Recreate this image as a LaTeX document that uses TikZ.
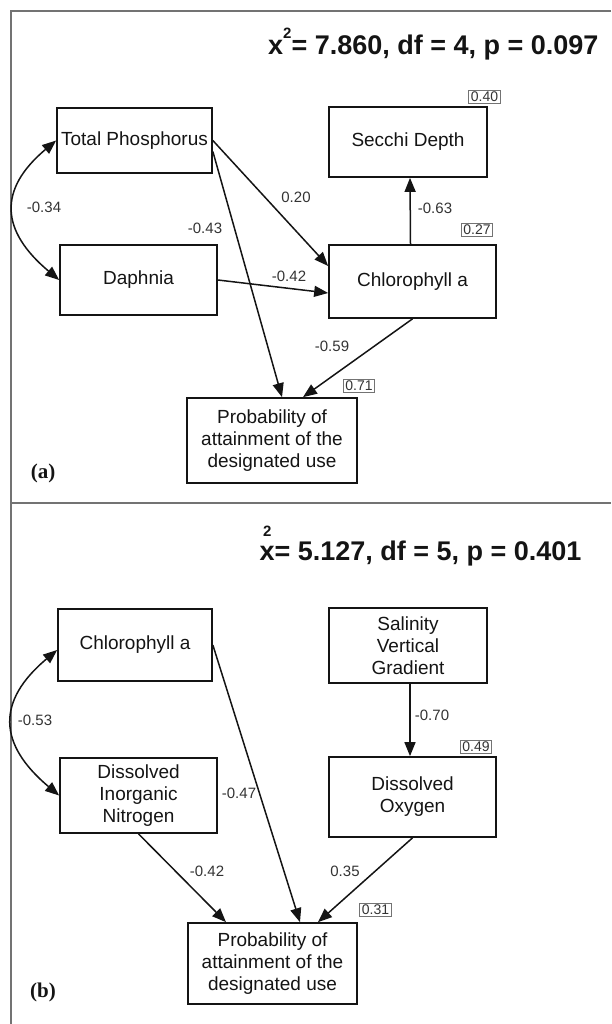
\documentclass[tikz,border=0pt]{standalone}
\usepackage{fontspec}
\setmainfont{Liberation Sans}
\newfontfamily\panelfont{Liberation Serif}
\usetikzlibrary{arrows.meta}

\newcommand{\boxfont}{\fontsize{19}{22}\selectfont}
\newcommand{\coeffont}{\fontsize{15}{17}\selectfont}
\newcommand{\residfont}{\fontsize{14}{15}\selectfont}
\newcommand{\fitfont}{\fontsize{27}{30}\selectfont\bfseries}

\definecolor{framegray}{gray}{0.45}
\definecolor{inkgray}{gray}{0.08}
\definecolor{labelgray}{gray}{0.2}

\begin{document}
\begin{tikzpicture}[x=1pt, y=1pt,
    varbox/.style={draw=inkgray, line width=1.7pt, inner sep=0pt, align=center, font=\boxfont, text=inkgray},
    resid/.style={draw=framegray, line width=0.8pt, inner xsep=2pt, inner ysep=1.5pt, font=\residfont, text=labelgray},
    coef/.style={font=\coeffont, text=labelgray, inner sep=0pt},
    effect/.style={-{Triangle[length=14pt,width=11pt]}, line width=1.5pt, draw=inkgray},
    corr/.style={{Triangle[length=14pt,width=11pt]}-{Triangle[length=14pt,width=11pt]}, line width=1.5pt, draw=inkgray},
    fitstat/.style={font=\fitfont, text=inkgray, anchor=base east},
    panel/.style={font=\panelfont\bfseries\fontsize{21}{24}\selectfont, text=inkgray}]
  \useasboundingbox (0,0) rectangle (611,-1024);

  % The frame
  \draw[framegray, line width=1.5pt] (611,-11) -- (11,-11) -- (11,-1024);
  \draw[framegray, line width=1.5pt] (11,-503) -- (611,-503);

  % Model (a)
  \node[fitstat] (fita) at (602,-55) {x\raisebox{0.6em}{\fontsize{15}{15}\selectfont 2}= 7.860, df = 4, p = 0.097};
  \node[varbox, minimum width=155pt, minimum height=65pt] (tp) at (134.5,-140.5) {Total Phosphorus};
  \node[varbox, minimum width=158pt, minimum height=70pt] (secchi) at (408,-142) {Secchi Depth};
  \node[varbox, minimum width=157pt, minimum height=70pt] (daphnia) at (138.5,-280) {Daphnia};
  \node[varbox, minimum width=167pt, minimum height=73pt] (chla) at (412.5,-281.5) {Chlorophyll a};
  \node[varbox, minimum width=170pt, minimum height=85pt] (proba) at (272,-440.5) {Probability of\\attainment of the\\designated use};
  \node[resid] (rsecchi) at (484.5,-97) {0.40};
  \node[resid] (rchla) at (477,-230) {0.27};
  \node[resid] (rproba) at (359,-385.5) {0.71};
  \node[panel] (pa) at (43,-473) {(a)};

  \draw[corr] (tp.west) to[out=220, in=140, looseness=1.4] (daphnia.west);
  \draw[effect] (tp.east) -- ([yshift=15.5pt]chla.west);
  \draw[effect] ([yshift=-11pt]tp.east) -- ([xshift=10pt]proba.north);
  \draw[effect] (daphnia.east) -- ([yshift=-11.5pt]chla.west);
  \draw[effect] (chla.south) -- ([xshift=31pt]proba.north);
  \draw[effect] ([xshift=-2pt]chla.north) -- ([xshift=2pt]secchi.south);

  \node[coef] (ca1) at (44,-207) {-0.34};
  \node[coef] (ca2) at (205,-228) {-0.43};
  \node[coef] (ca3) at (296,-197) {0.20};
  \node[coef] (ca4) at (435,-208) {-0.63};
  \node[coef] (ca5) at (289,-276) {-0.42};
  \node[coef] (ca6) at (332,-346) {-0.59};

  % Model (b)
  \node[fitstat] (fitb) at (585,-560) {\rlap{\hspace{3.5pt}\raisebox{0.88em}{\fontsize{15}{15}\selectfont 2}}x= 5.127, df = 5, p = 0.401};
  \node[varbox, minimum width=154pt, minimum height=72pt] (chlb) at (135,-645) {Chlorophyll a};
  \node[varbox, minimum width=158pt, minimum height=75pt] (salin) at (408,-645.5) {Salinity\\Vertical\\Gradient};
  \node[varbox, minimum width=157pt, minimum height=75pt] (din) at (138.5,-795.5) {Dissolved\\Inorganic\\Nitrogen};
  \node[varbox, minimum width=167pt, minimum height=80pt] (dox) at (412.5,-797) {Dissolved\\Oxygen};
  \node[varbox, minimum width=169pt, minimum height=81pt] (probb) at (272.5,-963.5) {Probability of\\attainment of the\\designated use};
  \node[resid] (rdox) at (476,-747) {0.49};
  \node[resid] (rprobb) at (375.5,-910) {0.31};
  \node[panel] (pb) at (43,-992) {(b)};

  \draw[corr] ([yshift=-5pt]chlb.west) to[out=220, in=140, looseness=1.4] (din.west);
  \draw[effect] (chlb.east) -- ([xshift=27.5pt]probb.north);
  \draw[effect] (din.south) -- ([xshift=-46.5pt]probb.north);
  \draw[effect] (dox.south) -- ([xshift=45.5pt]probb.north);
  \draw[effect] ([xshift=2pt]salin.south) -- ([xshift=-2.5pt]dox.north);

  \node[coef] (cb1) at (35,-720) {-0.53};
  \node[coef] (cb2) at (432,-715) {-0.70};
  \node[coef] (cb3) at (239,-793) {-0.47};
  \node[coef] (cb4) at (207,-871) {-0.42};
  \node[coef] (cb5) at (345,-871) {0.35};
\end{tikzpicture}
\end{document}
